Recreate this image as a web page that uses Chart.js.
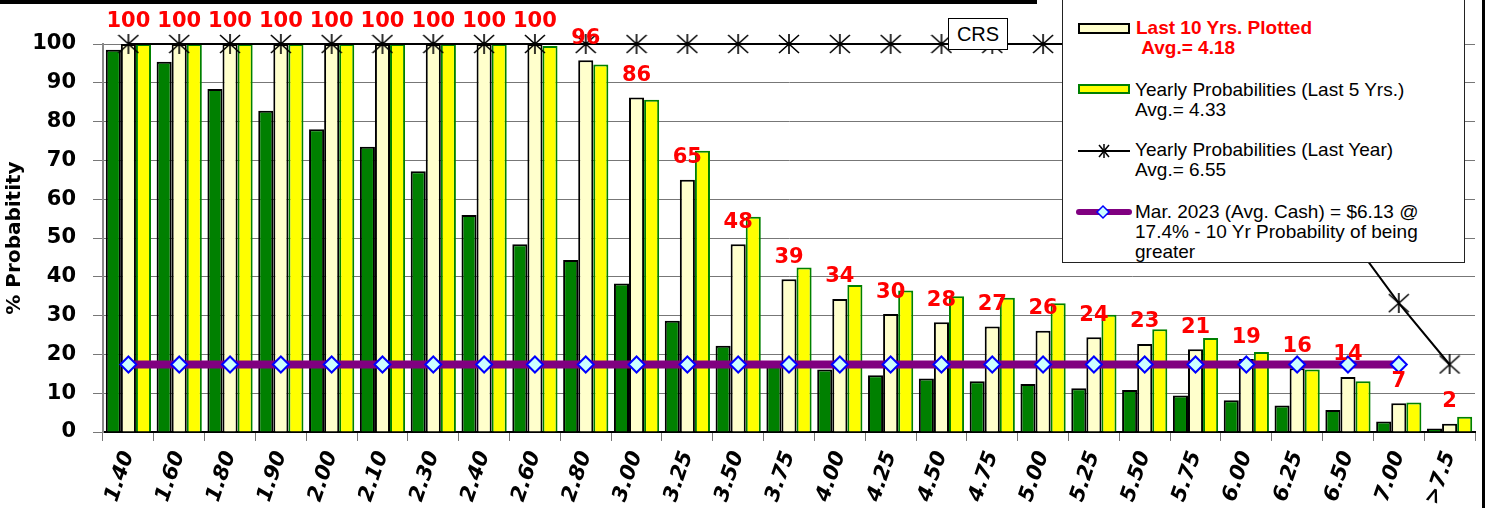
<!DOCTYPE html>
<html>
<head>
<meta charset="utf-8">
<script src="https://cdn.jsdelivr.net/npm/chart.js@4.4.0/dist/chart.umd.min.js"></script>
<style>
    body { margin: 0; background: #fff; }
    #wrap { position: relative; width: 1485px; height: 508px; overflow: hidden; background: #fff; }
    #chart { position: absolute; left: 0; top: 0; }
    .topbar { position: absolute; left: 0; top: 0; width: 1037px; height: 4px; background: #000; }
    .rightbar { position: absolute; left: 1482px; top: 0; width: 3px; height: 508px; background: #000; }
    .crs { position: absolute; left: 948px; top: 18px; width: 58px; height: 30px; border: 1px solid #000; background: #fff;
           font: 20px "Liberation Sans", Arial, sans-serif; text-align: center; line-height: 30px; }
    .legend { position: absolute; left: 1062px; top: -20px; width: 401px; height: 281px; border: 1px solid #222; background: #fff; }
    .lg { position: absolute; font: 19px "Liberation Sans", Arial, sans-serif; color: #000; line-height: 20px; white-space: nowrap; }
    .lg.red { color: #ff0000; font-weight: bold; }
    .sw { position: absolute; }
</style>
</head>
<body>
<div id="wrap">
    <canvas id="chart" width="1485" height="508"></canvas>
    <div class="topbar"></div>
    <div class="rightbar"></div>
    <div class="crs">CRS</div>
    <div class="legend"></div>
    <!-- legend entries (page coords) -->
    <div class="sw" style="left:1078px;top:23px;width:52px;height:11px;box-sizing:border-box;background:#FFFFCC;border:2px solid #000;"></div>
    <div class="lg red" style="left:1136px;top:18px;">Last 10 Yrs. Plotted<br>&nbsp;Avg.= 4.18</div>

    <div class="sw" style="left:1078px;top:84px;width:52px;height:10px;box-sizing:border-box;background:#FFFF00;border:2px solid #008000;"></div>
    <div class="lg" style="left:1135px;top:80px;">Yearly Probabilities (Last 5 Yrs.)<br>Avg.= 4.33</div>

    <svg class="sw" style="left:1076px;top:140px;" width="56" height="22">
        <line x1="2" y1="11" x2="54" y2="11" stroke="#000" stroke-width="2"/>
        <line x1="23" y1="5" x2="33" y2="17" stroke="#000" stroke-width="1.5"/>
        <line x1="33" y1="5" x2="23" y2="17" stroke="#000" stroke-width="1.5"/>
        <line x1="28" y1="4" x2="28" y2="18" stroke="#000" stroke-width="1.5"/>
    </svg>
    <div class="lg" style="left:1135px;top:140px;">Yearly Probabilities (Last Year)<br>Avg.= 6.55</div>

    <svg class="sw" style="left:1074px;top:201px;" width="60" height="22">
        <line x1="5" y1="11" x2="55" y2="11" stroke="#800080" stroke-width="6" stroke-linecap="round"/>
        <polygon points="29,5 35,11 29,17 23,11" fill="#CCFFFF" stroke="#0000FF" stroke-width="1.5"/>
    </svg>
    <div class="lg" style="left:1135px;top:202px;">Mar. 2023 (Avg. Cash) = $6.13 @<br>17.4% - 10 Yr Probability of being<br>greater</div>
</div>
<script>
// ============= Price probability chart =============

const categories = ['1.40', '1.60', '1.80', '1.90', '2.00', '2.10', '2.30', '2.40', '2.60', '2.80',
    '3.00', '3.25', '3.50', '3.75', '4.00', '4.25', '4.50', '4.75', '5.00', '5.25',
    '5.50', '5.75', '6.00', '6.25', '6.50', '7.00', '>7.5'];

// dark green bars (no legend entry)
const allYears = [98.5, 95.4, 88.4, 82.8, 78.0, 73.5, 67.2, 55.9, 48.4, 44.3,
    38.3, 28.7, 22.2, 17.8, 16.1, 14.6, 13.8, 13.1, 12.4, 11.3,
    10.8, 9.4, 8.2, 6.8, 5.7, 2.7, 0.9];

// Last 10 Yrs. Plotted
const tenYr = [100, 100, 100, 100, 100, 100, 100, 100, 100, 95.8,
    86.2, 65.0, 48.4, 39.4, 34.3, 30.4, 28.3, 27.2, 26.1, 24.4,
    22.7, 21.3, 18.8, 16.4, 14.2, 7.4, 2.1];

// red labels above the 10 yr bars
const tenYrLabels = ['100', '100', '100', '100', '100', '100', '100', '100', '100', '96',
    '86', '65', '48', '39', '34', '30', '28', '27', '26', '24',
    '23', '21', '19', '16', '14', '7', '2'];

// Yearly Probabilities (Last 5 Yrs.)
const fiveYr = [100, 100, 100, 100, 100, 100, 100, 100, 99.5, 94.7,
    85.6, 72.5, 55.5, 42.4, 37.9, 36.5, 35.0, 34.6, 33.2, 30.2,
    26.5, 24.2, 20.6, 16.1, 13.1, 7.6, 3.9];

// Yearly Probabilities (Last Year)
const lastYear = [100, 100, 100, 100, 100, 100, 100, 100, 100, 100,
    100, 100, 100, 100, 100, 100, 100, 100, 100, 100,
    100, 100, 100, 100, 51, 33.2, 17.4];

// Mar. 2023 (Avg. Cash) line
const cashLine = [17.4, 17.4, 17.4, 17.4, 17.4, 17.4, 17.4, 17.4, 17.4, 17.4,
    17.4, 17.4, 17.4, 17.4, 17.4, 17.4, 17.4, 17.4, 17.4, 17.4,
    17.4, 17.4, 17.4, 17.4, 17.4, 17.4, null];

const yTicks = [0, 10, 20, 30, 40, 50, 60, 70, 80, 90, 100];

const boldFont = '"DejaVu Sans", sans-serif';

function makeAsterisk() {
    const c = document.createElement('canvas');
    c.width = 22; c.height = 20;
    const g = c.getContext('2d');
    g.strokeStyle = '#000';
    g.lineWidth = 1.6;
    g.beginPath();
    g.moveTo(1, 1); g.lineTo(21, 19);
    g.moveTo(21, 1); g.lineTo(1, 19);
    g.moveTo(11, 0); g.lineTo(11, 20);
    g.stroke();
    return c;
}

const redLabels = {
    id: 'redLabels',
    afterDatasetsDraw(chart) {
        const { ctx, scales: { x, y } } = chart;
        ctx.save();
        ctx.font = 'bold 21px ' + boldFont;
        ctx.fillStyle = '#ff0000';
        ctx.textAlign = 'center';
        ctx.textBaseline = 'middle';
        tenYr.forEach((v, i) => {
            ctx.fillText(tenYrLabels[i], x.getPixelForValue(i), y.getPixelForValue(v) - 22);
        });
        ctx.restore();
    }
};

new Chart(document.getElementById('chart'), {
    type: 'bar',
    data: {
        labels: categories,
        datasets: [
            {
                type: 'line', label: 'Mar. 2023 (Avg. Cash)', data: cashLine, order: 1,
                borderColor: '#800080', borderWidth: 8, pointStyle: 'rectRot', pointRadius: 8,
                pointBackgroundColor: '#CCFFFF', pointBorderColor: '#0000FF', pointBorderWidth: 2
            },
            {
                type: 'line', label: 'Yearly Probabilities (Last Year)', data: lastYear, order: 0,
                borderColor: '#000', borderWidth: 2, pointStyle: makeAsterisk(), clip: false
            },
            {
                label: 'All', data: allYears, order: 2,
                backgroundColor: '#008000', borderColor: '#000', borderWidth: 2
            },
            {
                label: 'Last 10 Yrs. Plotted', data: tenYr, order: 2,
                backgroundColor: '#FFFFCC', borderColor: '#000', borderWidth: 2
            },
            {
                label: 'Yearly Probabilities (Last 5 Yrs.)', data: fiveYr, order: 2,
                backgroundColor: '#FFFF00', borderColor: '#008000', borderWidth: 2
            }
        ]
    },
    options: {
        responsive: false,
        animation: false,
        devicePixelRatio: 1,
        categoryPercentage: 0.89,
        barPercentage: 1.0,
        layout: { padding: { top: 44, right: 8, left: 0, bottom: 0 } },
        plugins: { legend: { display: false }, tooltip: { enabled: false } },
        scales: {
            x: {
                afterFit: s => { s.height = 76; },
                grid: { drawOnChartArea: false, drawTicks: true, tickLength: 9, color: '#777', offset: true },
                border: { color: '#000', width: 2 },
                ticks: {
                    color: '#000', minRotation: 71, maxRotation: 71, padding: 7,
                    font: { family: boldFont, size: 21, weight: 'bold', style: 'italic' }
                }
            },
            y: {
                min: 0, max: 100,
                afterFit: s => { s.width = 103; },
                afterBuildTicks: s => { s.ticks = yTicks.map(v => ({ value: v })); },
                grid: { color: '#777', lineWidth: 1, tickLength: 10 },
                border: { color: '#888', width: 2 },
                ticks: {
                    color: '#000', padding: 17,
                    font: { family: boldFont, size: 21, weight: 'bold' }
                },
                title: {
                    display: true, text: '% Probabitity', color: '#000', padding: { top: 3, bottom: 0 },
                    font: { family: boldFont, size: 20, weight: 'bold' }
                }
            }
        }
    },
    plugins: [redLabels]
});
</script>
</body>
</html>
